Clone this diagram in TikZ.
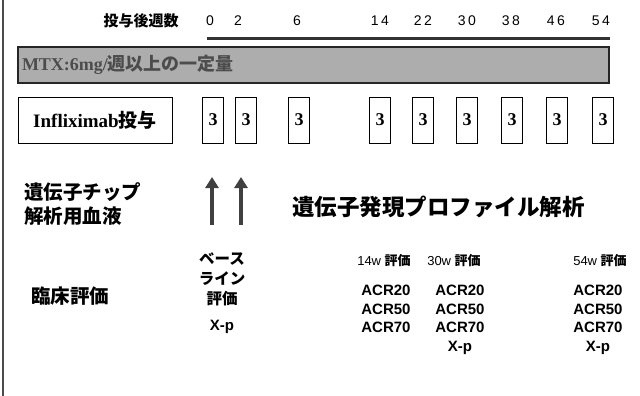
\documentclass[tikz,border=0pt]{standalone}
\usepackage{fontspec}
\setmainfont{Liberation Serif}
\setsansfont{Liberation Sans}
\newfontfamily\jp{Noto Sans CJK JP}
\usetikzlibrary{arrows.meta}
\tikzset{
  num/.style={inner sep=0pt, font=\sffamily\fontsize{14}{14}\selectfont},
  dosebox/.style={draw, line width=0.8pt, minimum width=21pt, minimum height=46pt, inner sep=0pt,
    font=\bfseries\fontsize{18}{18}\selectfont},
  label/.style={inner sep=0pt, anchor=west, font=\jp\bfseries\fontsize{19.5}{19.5}\selectfont},
  hdr/.style={inner sep=0pt, font=\fontsize{13}{13}\selectfont},
  acr/.style={inner sep=0pt, align=center, font=\sffamily\bfseries\fontsize{15}{18.5}\selectfont},
  kana/.style={inner sep=0pt, align=center, font=\jp\bfseries\fontsize{15.5}{20}\selectfont},
  bigarrow/.style={-{Triangle[length=11pt,width=13pt]}, line width=3.5pt, black!75},
}
\begin{document}
\begin{tikzpicture}[x=1pt,y=-1pt]
\useasboundingbox (0,0) rectangle (640,396);
% left frame line
\coordinate (ft) at (3,0);
\coordinate (fb) at (3,396);
\draw[line width=1.3pt, black!70] (ft) -- (fb);

% header row
\node[inner sep=0pt, font=\jp\bfseries\fontsize{15}{15}\selectfont] (wk) at (141,21) {投与後週数};
\node[num] (n0) at (210,21) {0};
\node[num] (n2) at (238,21) {2};
\node[num] (n6) at (297,21) {6};
\node[num] (n14) at (380,21) {1\kern2.5pt4};
\node[num] (n22) at (423,21) {2\kern2.5pt2};
\node[num] (n30) at (467,21) {3\kern2.5pt0};
\node[num] (n38) at (511,21) {3\kern2.5pt8};
\node[num] (n46) at (556,21) {4\kern2.5pt6};
\node[num] (n54) at (601,21) {5\kern2.5pt4};

% thick period line
\coordinate (ls) at (207,39);
\coordinate (le) at (610,39);
\draw[line width=3pt, black!80] (ls) -- (le);

% MTX bar
\node[draw=black!85, line width=1.1pt, fill=black!32, minimum width=591pt, minimum height=36pt,
  text width=583pt, align=left, inner sep=4pt, text=black!70,
  font=\bfseries\fontsize{18}{18}\selectfont] (mtx) at (313.5,65)
  {MTX:6mg/{\jp 週以上の一定量}};

% Infliximab row
\node[draw, line width=0.8pt, minimum width=154pt, minimum height=46pt, inner sep=0pt,
  font=\bfseries\fontsize{19}{19}\selectfont] (ifx) at (95,120) {Infliximab{\jp 投与}};
\node[dosebox] (d0) at (213,120) {3};
\node[dosebox] (d2) at (246,120) {3};
\node[dosebox] (d6) at (299,120) {3};
\node[dosebox] (d14) at (380,120) {3};
\node[dosebox] (d22) at (423,120) {3};
\node[dosebox] (d30) at (467,120) {3};
\node[dosebox] (d38) at (512,120) {3};
\node[dosebox] (d46) at (557,120) {3};
\node[dosebox] (d54) at (603,120) {3};

% gene chip row
\node[label] (gc1) at (24,192) {遺伝子チップ};
\node[label] (gc2) at (24,216) {解析用血液};
\coordinate (a1b) at (212,225);
\coordinate (a1t) at (212,177);
\coordinate (a2b) at (241,225);
\coordinate (a2t) at (241,177);
\draw[bigarrow] (a1b) -- (a1t);
\draw[bigarrow] (a2b) -- (a2t);
\node[label, font=\jp\bfseries\fontsize{22.5}{22.5}\selectfont] (gep) at (292,207) {遺伝子発現プロファイル解析};

% clinical evaluation row
\node[label, font=\jp\bfseries\fontsize{19.5}{19.5}\selectfont] (clin) at (31,296) {臨床評価};
\node[kana] (base) at (222,279) {ベース\\ライン\\評価};
\node[acr] (bxp) at (222,327) {X-p};

\node[hdr] (h14) at (384,261) {\sffamily 14w {\jp\bfseries 評価}};
\node[acr] (c14) at (386,309) {ACR20\\ACR50\\ACR70};

\node[hdr] (h30) at (454,261) {\sffamily 30w {\jp\bfseries 評価}};
\node[acr] (c30) at (460,309) {ACR20\\ACR50\\ACR70};
\node[acr] (x30) at (460,348) {X-p};

\node[hdr] (h54) at (600,261) {\sffamily 54w {\jp\bfseries 評価}};
\node[acr] (c54) at (598,309) {ACR20\\ACR50\\ACR70};
\node[acr] (x54) at (598,348) {X-p};
\end{tikzpicture}
\end{document}
